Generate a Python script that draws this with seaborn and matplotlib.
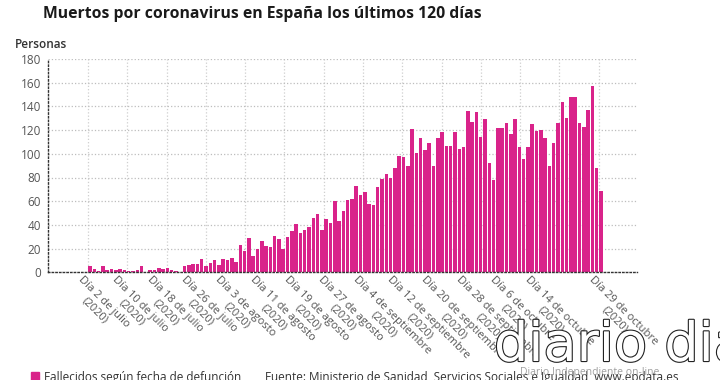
import numpy as np
import pandas as pd
import matplotlib
matplotlib.use('Agg')
import matplotlib.pyplot as plt
import matplotlib.transforms as mtransforms
import matplotlib.patheffects as pe
from matplotlib.patches import Rectangle
import seaborn as sns


# fallecidos por día, del 2 de julio al 29 de octubre de 2020 (120 días)
fallecidos = [5, 3, 1, 5, 2, 3, 2, 3, 2, 1, 1, 2, 5, 0, 2, 2, 4, 3, 4, 2, 1, 0,
              5, 6, 7, 7, 11, 5, 8, 10, 6, 11, 10, 12, 9,
              23, 18, 29, 14, 20, 26, 22, 21, 31, 28, 20, 30, 35, 41, 33, 36, 38, 46, 49, 36,
              45, 42, 60, 43, 52, 61, 62, 73, 65, 68, 58, 57, 72, 79, 83, 80, 88, 98, 97, 90,
              121, 101, 113, 103, 109,
              90, 113, 118, 107, 107, 118, 104, 106, 136, 127, 135, 114, 129, 92, 78, 122, 122,
              126, 117, 129, 106, 96, 106, 125, 119, 120, 113, 90, 109, 126, 144, 130, 148, 148,
              126, 123, 137, 157, 88, 69]
fechas = pd.date_range('2020-07-02', periods=len(fallecidos), freq='D').strftime('%Y-%m-%d')

tick_pos = [0, 8, 16, 24, 32, 40, 48, 56, 64, 72, 80, 88, 96, 104, 119]
tick_labels = ['Día 2 de julio\n(2020)', 'Día 10 de julio\n(2020)', 'Día 18 de julio\n(2020)',
               'Día 26 de julio\n(2020)', 'Día 3 de agosto\n(2020)', 'Día 11 de agosto\n(2020)',
               'Día 19 de agosto\n(2020)', 'Día 27 de agosto\n(2020)', 'Día 4 de septiembre\n(2020)',
               'Día 12 de septiembre\n(2020)', 'Día 20 de septiembre\n(2020)',
               'Día 28 de septiembre\n(2020)', 'Día 6 de octubre\n(2020)',
               'Día 14 de octubre\n(2020)', 'Día 29 de octubre\n(2020)']

df = pd.DataFrame({'dia': fechas, 'fallecidos': fallecidos})

sns.set_theme(style='white')
plt.rcParams['font.family'] = ['Open Sans', 'DejaVu Sans']

rosa = '#d9238a'

fig = plt.figure(figsize=(7.2, 3.8), dpi=100)
ax = fig.add_axes([48 / 720, 1 - 272.3 / 380, 589 / 720, 213.3 / 380])

sns.barplot(data=df, x='dia', y='fallecidos', color=rosa, saturation=1, width=0.82,
            linewidth=0, order=list(fechas), ax=ax)

ax.set_xlim(-9.8, 127.4)
ax.set_ylim(0, 180)
ax.set_yticks(range(0, 181, 20))
ax.set_xlabel('')
ax.set_ylabel('')

# rejilla punteada
ax.set_xticks(np.linspace(-0.5, 118.5, 14), minor=True)
ax.grid(which='major', axis='y', linestyle=':', color='#bdbdbd', lw=0.9)
ax.grid(which='minor', axis='x', linestyle=':', color='#cfcfcf', lw=0.9)
ax.set_axisbelow(True)

# etiquetas de fecha inclinadas, ancladas en su esquina superior izquierda
ax.set_xticks(tick_pos)
ax.set_xticklabels([])
offset = mtransforms.ScaledTranslation(-4.5 / 72, -1.5 / 72, fig.dpi_scale_trans)
for pos, lab in zip(tick_pos, tick_labels):
    ax.text(pos, 0, lab, transform=ax.get_xaxis_transform() + offset,
            rotation=-45, ha='left', va='top', rotation_mode='anchor',
            fontsize=8, color='#555555', multialignment='center', linespacing=1.15)

ax.tick_params(axis='x', which='both', length=0, pad=1)
ax.tick_params(axis='y', length=3, width=0.8, color='#333333', labelsize=8.5,
               labelcolor='#555555', pad=2)

for s in ['top', 'right']:
    ax.spines[s].set_visible(False)
for s in ['left', 'bottom']:
    ax.spines[s].set_linestyle(':')
    ax.spines[s].set_color('#333333')
    ax.spines[s].set_linewidth(1.0)

fig.text(262 / 720, 1 - 14 / 380, 'Muertos por coronavirus en España los últimos 120 días',
         ha='center', va='center', fontsize=11.3, fontweight='bold', color='#1a1a1a')
fig.text(15 / 720, 1 - 45 / 380, 'Personas', ha='left', va='center', fontsize=8.5,
         fontweight='semibold', color='#333333')

# leyenda y fuente
fig.patches.append(Rectangle((31 / 720, 0.0), 8 / 720, 8 / 380, transform=fig.transFigure,
                             color=rosa))
fig.text(44 / 720, 3 / 380, 'Fallecidos según fecha de defunción', ha='left', va='center',
         fontsize=8.5, color='#333333')
fig.text(265 / 720, 3 / 380,
         'Fuente: Ministerio de Sanidad, Servicios Sociales e Igualdad, www.epdata.es',
         ha='left', va='center', fontsize=8.5, color='#333333')

# marca de agua
fig.text(494 / 720, 8 / 380, 'diario dia', ha='left', va='bottom', fontsize=39,
         color='white', family='DejaVu Sans',
         path_effects=[pe.withStroke(linewidth=1.6, foreground='#222222')])
fig.text(590 / 720, 7 / 380, 'Diario Independiente on-line', ha='center', va='center',
         fontsize=7.5, color='#a0a0a0')

fig.savefig('out.png', dpi=100)
